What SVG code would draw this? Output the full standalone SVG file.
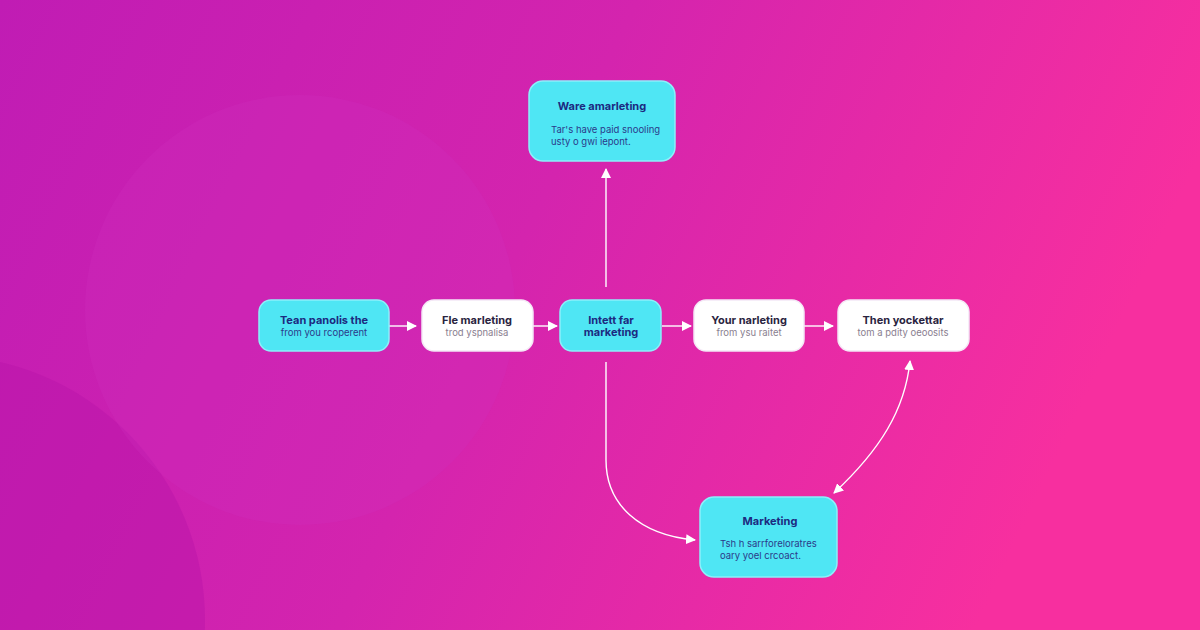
<svg xmlns="http://www.w3.org/2000/svg" width="1200" height="630" viewBox="0 0 1200 630">
<defs>
<linearGradient id="bg" x1="0" y1="0" x2="1" y2="0.25">
<stop offset="0" stop-color="#c01cb4"/>
<stop offset="0.5" stop-color="#d424ae"/>
<stop offset="1" stop-color="#f72f9f"/>
</linearGradient>
<marker id="ah" viewBox="0 0 10 10" refX="9" refY="5" markerWidth="10" markerHeight="10" markerUnits="userSpaceOnUse" orient="auto-start-reverse">
<path d="M0,0 L10,5 L0,10 z" fill="#ffffff"/>
</marker>
<style>
.cy{fill:#4fe6f4;stroke:#8cf0fa;stroke-width:1.5}
.wh{fill:#ffffff;stroke:#f4e8f6;stroke-width:1.5}
.t{font-family:Inter,"Liberation Sans",sans-serif;font-size:11px;font-weight:700;text-anchor:middle}
.tc{fill:#1c2a80}
.tw{fill:#2a2440}
.b{font-family:Inter,"Liberation Sans",sans-serif;font-size:9.5px}
.bc{fill:#2b3a8a}
.bw{fill:#8a8090}
.c{fill:none;stroke:#ffffff;stroke-width:1.4}
</style>
</defs>
<rect width="1200" height="630" fill="url(#bg)"/>
<circle cx="-60" cy="620" r="265" fill="#b814a8" opacity="0.45"/>
<circle cx="300" cy="310" r="215" fill="#d030c0" opacity="0.25"/>
<g id="connectors">
<line class="c" x1="389" y1="326" x2="416" y2="326" marker-end="url(#ah)"/>
<line class="c" x1="533" y1="326" x2="557" y2="326" marker-end="url(#ah)"/>
<line class="c" x1="662" y1="326" x2="691" y2="326" marker-end="url(#ah)"/>
<line class="c" x1="804" y1="326" x2="833" y2="326" marker-end="url(#ah)"/>
<line class="c" x1="606" y1="287" x2="606" y2="169" marker-end="url(#ah)"/>
<path class="c" d="M606,362 L606,460 C606,505 640,535 695,540" marker-end="url(#ah)"/>
<path class="c" d="M910,361 C905,410 880,450 834,493" marker-start="url(#ah)" marker-end="url(#ah)"/>
</g>
<g id="n-top">
<rect class="cy" x="529" y="81" width="146" height="80" rx="14"/>
<text class="t tc" x="602" y="110">Ware amarleting</text>
<text class="b bc" x="551" y="133">Tar's have paid snooling</text>
<text class="b bc" x="551" y="145">usty o gwi iepont.</text>
</g>
<g id="n1">
<rect class="cy" x="259" y="300" width="130" height="51" rx="12"/>
<text class="t tc" x="324" y="324">Tean panolis the</text>
<text class="b bc" x="324" y="336" text-anchor="middle">from you rcoperent</text>
</g>
<g id="n2">
<rect class="wh" x="422" y="300" width="111" height="51" rx="12"/>
<text class="t tw" x="477" y="324">Fle marleting</text>
<text class="b bw" x="477" y="336" text-anchor="middle">trod yspnalisa</text>
</g>
<g id="n3">
<rect class="cy" x="560" y="300" width="101" height="51" rx="12"/>
<text class="t tc" x="611" y="324">Intett far</text>
<text class="t tc" x="611" y="336">marketing</text>
</g>
<g id="n4">
<rect class="wh" x="694" y="300" width="110" height="51" rx="12"/>
<text class="t tw" x="749" y="324">Your narleting</text>
<text class="b bw" x="749" y="336" text-anchor="middle">from ysu raitet</text>
</g>
<g id="n5">
<rect class="wh" x="838" y="300" width="131" height="51" rx="12"/>
<text class="t tw" x="903" y="324">Then yockettar</text>
<text class="b bw" x="903" y="336" text-anchor="middle">tom a pdity oeoosits</text>
</g>
<g id="n-bottom">
<rect class="cy" x="700" y="497" width="137" height="80" rx="14"/>
<text class="t tc" x="770" y="525">Marketing</text>
<text class="b bc" x="720" y="547">Tsh h sarrforeloratres</text>
<text class="b bc" x="720" y="559">oary yoel crcoact.</text>
</g>
</svg>
